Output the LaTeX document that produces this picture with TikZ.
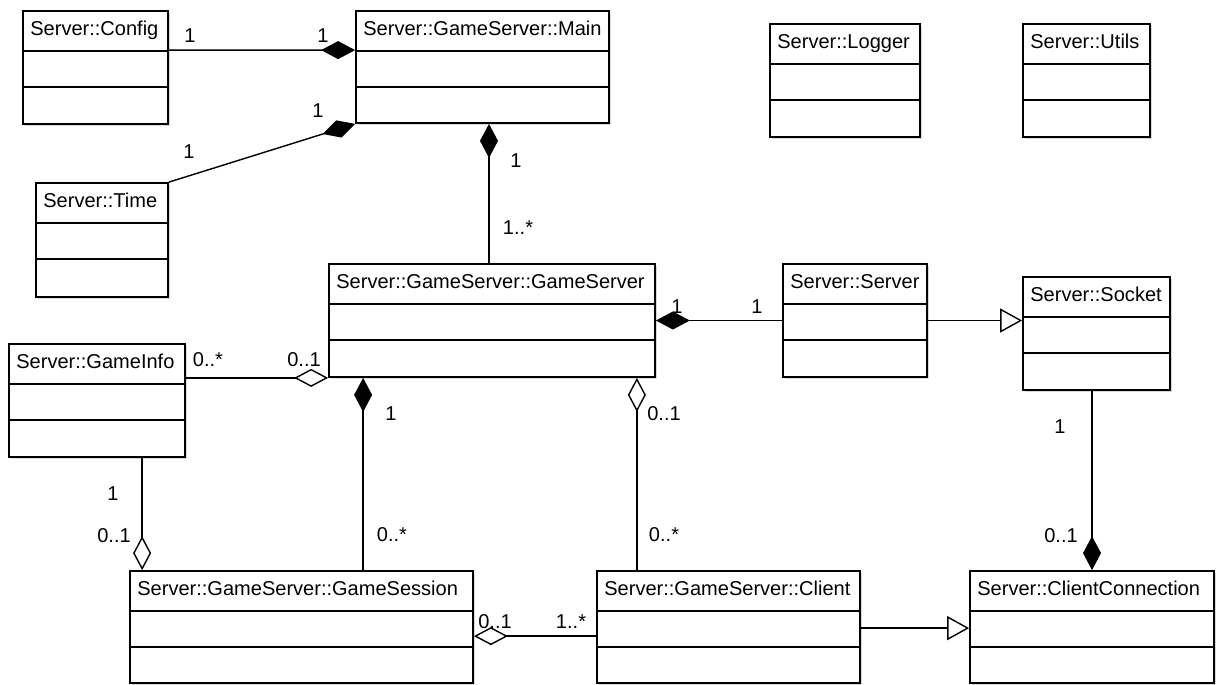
\documentclass[tikz,border=0pt]{standalone}
\usepackage{fontspec}
\setmainfont{Liberation Sans}
\usetikzlibrary{arrows.meta,fit,shadows}

\tikzset{>=latex,
  classbox/.style={draw, line width=1pt, fill=white, inner sep=0pt,
    drop shadow={shadow xshift=1pt, shadow yshift=-1pt, opacity=0.3}},
  classline/.style={line width=1pt},
  classname/.style={anchor=base west, inner sep=0pt},
  mult/.style={inner sep=0pt},
  assoc/.style={line width=0.8pt},
  comp/.style={assoc, -{Diamond[length=0.68cm, width=0.36cm, fill=black]}},
  aggr/.style={assoc, -{Diamond[open, length=0.68cm, width=0.36cm, fill=white]}},
  inherit/.style={assoc, -{Triangle[open, length=0.44cm, width=0.48cm, fill=white]}},
}

% class box: name, left, top, right, bottom, title
\newcommand{\umlclass}[6]{%
  \node[classbox, fit={(#2,#3) (#4,#5)}] (#1) {};
  \draw[classline] (#2,#3+40) -- (#4,#3+40);
  \draw[classline] (#2,#3+76) -- (#4,#3+76);
  \node[classname] (#1-name) at (#2+7,#3+24.5) {#6};
}

\begin{document}
\begin{tikzpicture}[x=0.02cm, y=-0.02cm, font=\fontsize{11.4}{13.7}\selectfont]

\useasboundingbox (0,0) rectangle (1219,684);

\umlclass{config}{23}{11}{168}{124}{Server::Config}
\umlclass{main}{356}{11}{609}{123}{Server::GameServer::Main}
\umlclass{time}{36}{183}{168}{297}{Server::Time}
\umlclass{logger}{770}{24}{920}{137}{Server::Logger}
\umlclass{utils}{1023}{24}{1150}{137}{Server::Utils}
\umlclass{gameserver}{329}{264}{655}{377}{Server::GameServer::GameServer}
\umlclass{server}{783}{264}{927}{377}{Server::Server}
\umlclass{socket}{1023}{277}{1170}{390}{Server::Socket}
\umlclass{gameinfo}{9}{344}{185}{457}{Server::GameInfo}
\umlclass{gamesession}{130}{571}{473}{683}{Server::GameServer::GameSession}
\umlclass{client}{597}{571}{860}{683}{Server::GameServer::Client}
\umlclass{clientconn}{970}{571}{1214}{683}{Server::ClientConnection}

% Main
\draw[comp] ([yshift=-0.8cm]config.north east) -- ([yshift=-0.8cm]main.north west);
\node[mult] (m-conf-a) at (190,36) {1};
\node[mult] (m-conf-b) at (323,36) {1};

\draw[comp] (time.north east) -- (main.south west);
\node[mult] (m-time-a) at (189,152) {1};
\node[mult] (m-time-b) at (318,111) {1};

\coordinate (gs-up) at ([xshift=-0.06cm]gameserver.north);
\draw[comp] (gs-up) -- (gs-up |- main.south);
\node[mult] (m-main-a) at (516,161) {1};
\node[mult] (m-main-b) at (518,228) {1..*};

% GameServer
\draw[comp] (server.west) -- (gameserver.east);
\node[mult] (m-serv-a) at (677,307) {1};
\node[mult] (m-serv-b) at (757,307) {1};

\draw[inherit] (server.east) -- (server.east -| socket.west);

\draw[aggr] (gameserver.south west -| gameinfo.east) -- (gameserver.south west);
\node[mult] (m-info-a) at (208,360) {0..*};
\node[mult] (m-info-b) at (304,360) {0..1};

\coordinate (gs-sess) at ([xshift=0.7cm]gameserver.south west);
\draw[comp] (gs-sess |- gamesession.north) -- (gs-sess);
\node[mult] (m-sess-a) at (391,414) {1};
\node[mult] (m-sess-b) at (392,535) {0..*};

\coordinate (gs-cli) at ([xshift=-0.38cm]gameserver.south east);
\draw[aggr] (gs-cli |- client.north) -- (gs-cli);
\node[mult] (m-cli-a) at (664,414) {0..1};
\node[mult] (m-cli-b) at (664,535) {0..*};

% GameSession / Client
\coordinate (sess-info) at ([xshift=0.26cm]gamesession.north west);
\draw[aggr] (sess-info |- gameinfo.south) -- (sess-info);
\node[mult] (m-si-a) at (113,494) {1};
\node[mult] (m-si-b) at (114,536) {0..1};

\coordinate (cli-sess) at ([yshift=-1.32cm]client.north west);
\draw[aggr] (cli-sess) -- (cli-sess -| gamesession.east);
\node[mult] (m-cs-a) at (495,622) {0..1};
\node[mult] (m-cs-b) at (571,622) {1..*};

\coordinate (cli-conn) at ([yshift=-1.16cm]client.north east);
\draw[inherit] (cli-conn) -- (cli-conn -| clientconn.west);

\draw[comp] (clientconn.north |- socket.south) -- (clientconn.north);
\node[mult] (m-sock-a) at (1060,427) {1};
\node[mult] (m-sock-b) at (1061,536) {0..1};

\end{tikzpicture}
\end{document}
